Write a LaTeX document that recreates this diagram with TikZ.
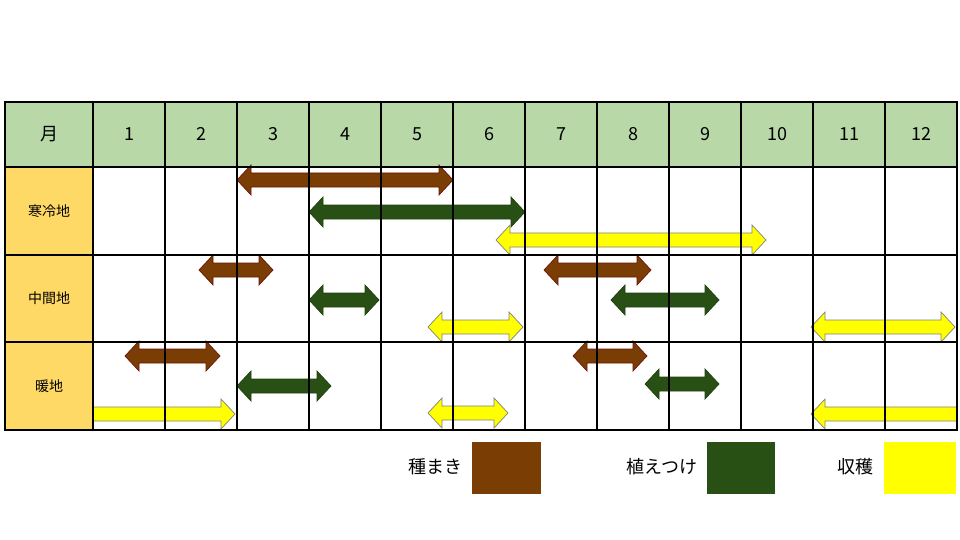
\documentclass[tikz,border=0pt]{standalone}
\usepackage{fontspec}
\setmainfont{Noto Sans CJK JP}
\definecolor{hdrgreen}{RGB}{184,216,168}
\definecolor{sidegold}{RGB}{255,217,102}
\definecolor{sowbrown}{RGB}{122,62,4}
\definecolor{sowedge}{RGB}{110,20,10}
\definecolor{plantgreen}{RGB}{40,80,20}
\definecolor{cropyellow}{RGB}{255,255,0}
% double arrow: x1, x2, y, fill/draw
\newcommand\bothway[4]{\filldraw[#4] (#1,#3) -- ++(14,-15) -- ++(0,8) -- (#2-14,#3-7) -- ++(0,-8) -- (#2,#3) -- ++(-14,15) -- ++(0,-8) -- (#1+14,#3+7) -- ++(0,8) -- cycle;}
% right arrow with flat tail
\newcommand\rightway[4]{\filldraw[#4] (#1,#3-7) -- (#2-14,#3-7) -- ++(0,-8) -- (#2,#3) -- ++(-14,15) -- ++(0,-8) -- (#1,#3+7) -- cycle;}
% left arrow with flat tail
\newcommand\leftway[4]{\filldraw[#4] (#2,#3-7) -- (#1+14,#3-7) -- ++(0,-8) -- (#1,#3) -- ++(14,15) -- ++(0,-8) -- (#2,#3+7) -- cycle;}
\begin{document}
\begin{tikzpicture}[x=1pt,y=-1pt,
  sow/.style={fill=sowbrown, draw=sowedge, line width=0.7pt},
  plant/.style={fill=plantgreen, draw=plantgreen!80!black, line width=0.7pt},
  crop/.style={fill=cropyellow, draw=gray, line width=0.7pt},
  hdr/.style={font=\fontsize{18}{20}\selectfont},
  side/.style={font=\fontsize{14}{16}\selectfont},
  legend/.style={font=\fontsize{18}{20}\selectfont, anchor=east}]
  \useasboundingbox (0,0) rectangle (960,540);

  % backgrounds
  \fill[hdrgreen] (5,102) rectangle (957,167);
  \fill[sidegold] (5,167) rectangle (93,430);

  % arrows
  \bothway{237}{453}{180}{sow}
  \bothway{309}{525}{212}{plant}
  \bothway{496}{766}{240}{crop}
  \bothway{199}{273}{270}{sow}
  \bothway{309}{379}{300}{plant}
  \bothway{428}{523}{327}{crop}
  \bothway{544}{651}{270}{sow}
  \bothway{611}{719}{300}{plant}
  \bothway{811}{955}{327}{crop}
  \bothway{125}{220}{356}{sow}
  \rightway{93}{235}{414}{crop}
  \bothway{237}{331}{386}{plant}
  \bothway{428}{508}{413}{crop}
  \bothway{573}{647}{356}{sow}
  \bothway{645}{719}{384}{plant}
  \leftway{811}{957}{414}{crop}

  % grid
  \draw[line width=1.5pt] (5,102) rectangle (957,430);
  \foreach \y in {167,255,342} \draw[line width=1.5pt] (5,\y) -- (957,\y);
  \foreach \x in {93,165,237,309,381,453,525,597,669,741,813,885}
    \draw[line width=1.5pt] (\x,102) -- (\x,430);

  % header
  \node[hdr] (month) at (49,134) {月};
  \foreach \m [count=\c] in {1,...,12}
    \node[hdr] (m\m) at (93+72*\c-36,134) {\m};
  \node[side] (cold) at (49,211) {寒冷地};
  \node[side] (mid) at (49,298) {中間地};
  \node[side] (warm) at (49,386) {暖地};

  % legend
  \fill[sowbrown] (472,442) rectangle (541,494);
  \node[legend] (sowlab) at (466,467) {種まき};
  \fill[plantgreen] (707,442) rectangle (775,494);
  \node[legend] (plantlab) at (701,467) {植えつけ};
  \fill[cropyellow] (884,442) rectangle (956,494);
  \node[legend] (croplab) at (877,467) {収穫};
\end{tikzpicture}
\end{document}
